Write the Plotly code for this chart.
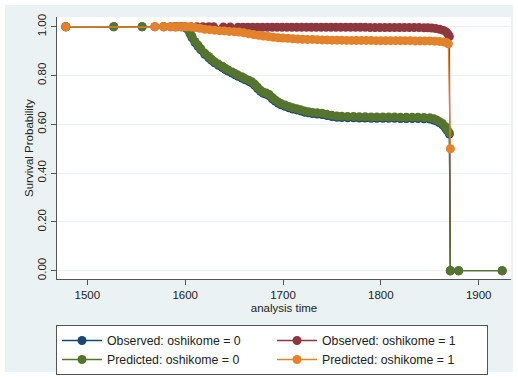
import plotly.graph_objects as go

# ---------------- data ----------------
obs0_t = [1478, 1527, 1556, 1578, 1590, 1596, 1600, 1603, 1605, 1607, 1610, 1613, 1616, 1620,
          1624, 1627, 1630, 1634, 1638, 1641, 1644, 1648, 1651, 1654, 1658, 1661, 1665, 1668,
          1671, 1674, 1677, 1680, 1683, 1686, 1689, 1692, 1695, 1698, 1702, 1706, 1710, 1714,
          1718, 1722, 1726, 1730, 1735, 1740, 1745, 1750, 1755, 1760, 1766, 1772, 1778, 1784,
          1790, 1796, 1802, 1808, 1814, 1820, 1826, 1832, 1838, 1844, 1850, 1854, 1857, 1860,
          1863, 1866, 1868, 1870, 1871, 1879.5, 1924]
obs0_s = [1.0, 1.0, 1.0, 1.0, 1.0, 1.0, 0.997, 0.987, 0.971, 0.955, 0.935, 0.92, 0.905, 0.887,
          0.873, 0.862, 0.852, 0.842, 0.833, 0.825, 0.818, 0.81, 0.803, 0.797, 0.79, 0.783, 0.776, 0.77,
          0.76, 0.747, 0.735, 0.727, 0.723, 0.717, 0.705, 0.695, 0.687, 0.68, 0.674, 0.668, 0.663, 0.659,
          0.655, 0.65, 0.647, 0.644, 0.642, 0.64, 0.636, 0.632, 0.629, 0.628, 0.627, 0.627, 0.626, 0.626,
          0.625, 0.625, 0.625, 0.625, 0.625, 0.624, 0.624, 0.624, 0.624, 0.623, 0.622, 0.618, 0.613, 0.606,
          0.598, 0.585, 0.573, 0.56, 0.0, 0.0, 0.0]

obs1_t = [1478, 1569, 1585, 1592, 1600, 1606, 1612, 1618, 1624, 1629, 1639, 1646, 1654, 1659,
          1664, 1669, 1674, 1679, 1684, 1689, 1694, 1699, 1704, 1709, 1714, 1719, 1724, 1729,
          1734, 1739, 1744, 1749, 1754, 1759, 1764, 1769, 1774, 1779, 1784, 1789, 1794, 1799,
          1804, 1809, 1814, 1819, 1824, 1829, 1834, 1839, 1844, 1848, 1852, 1856, 1860, 1864,
          1867, 1869, 1870, 1871]
obs1_s = [1.0, 1.0, 1.0, 1.0, 1.0, 1.0, 1.0, 1.0, 1.0, 1.0, 0.999, 0.999, 0.998, 0.998,
          0.998, 0.998, 0.998, 0.998, 0.998, 0.998, 0.998, 0.998, 0.998, 0.998, 0.998, 0.998, 0.998, 0.998,
          0.998, 0.998, 0.998, 0.998, 0.998, 0.998, 0.998, 0.998, 0.998, 0.998, 0.998, 0.997, 0.997, 0.997,
          0.997, 0.997, 0.997, 0.997, 0.997, 0.997, 0.997, 0.997, 0.996, 0.996, 0.995, 0.993, 0.99, 0.985,
          0.978, 0.968, 0.96, 0.0]

pred0_t = [1478, 1527, 1556, 1578, 1590, 1596, 1600, 1603, 1605, 1607, 1610, 1613, 1616, 1620,
           1624, 1627, 1630, 1634, 1638, 1641, 1644, 1648, 1651, 1654, 1658, 1661, 1665, 1668,
           1671, 1674, 1677, 1680, 1683, 1686, 1689, 1692, 1695, 1698, 1702, 1706, 1710, 1714,
           1718, 1722, 1726, 1730, 1735, 1740, 1745, 1750, 1755, 1760, 1766, 1772, 1778, 1784,
           1790, 1796, 1802, 1808, 1814, 1820, 1826, 1832, 1838, 1844, 1850, 1854, 1857, 1860,
           1863, 1866, 1868, 1870, 1871, 1879.5, 1924]
pred0_s = [1.0, 1.0, 1.0, 1.0, 1.0, 1.0, 0.998, 0.99, 0.975, 0.96, 0.94, 0.925, 0.91, 0.892,
           0.878, 0.867, 0.857, 0.847, 0.838, 0.83, 0.823, 0.815, 0.808, 0.802, 0.795, 0.788, 0.781, 0.775,
           0.765, 0.752, 0.74, 0.732, 0.728, 0.722, 0.71, 0.7, 0.692, 0.685, 0.679, 0.673, 0.668, 0.664,
           0.66, 0.655, 0.652, 0.649, 0.647, 0.645, 0.641, 0.637, 0.634, 0.633, 0.632, 0.632, 0.631, 0.631,
           0.63, 0.63, 0.63, 0.63, 0.63, 0.629, 0.629, 0.629, 0.629, 0.628, 0.627, 0.623, 0.618, 0.611,
           0.603, 0.59, 0.578, 0.565, 0.0, 0.0, 0.0]

pred1_t = [1478, 1569, 1578, 1585, 1590, 1594, 1598, 1602, 1606, 1610, 1615, 1620, 1625, 1630,
           1635, 1640, 1645, 1650, 1655, 1660, 1665, 1670, 1675, 1680, 1685, 1690, 1695, 1700,
           1705, 1710, 1715, 1720, 1725, 1730, 1735, 1740, 1745, 1750, 1755, 1760, 1765, 1770,
           1775, 1780, 1785, 1790, 1795, 1800, 1805, 1810, 1815, 1820, 1825, 1830, 1835, 1840,
           1845, 1850, 1855, 1860, 1864, 1867, 1869, 1871]
pred1_s = [1.0, 1.0, 1.0, 1.0, 1.0, 1.0, 1.0, 1.0, 0.999, 0.997, 0.994, 0.99, 0.988, 0.986,
           0.984, 0.983, 0.981, 0.98, 0.978, 0.975, 0.971, 0.968, 0.965, 0.962, 0.96, 0.957, 0.955, 0.954,
           0.953, 0.951, 0.95, 0.949, 0.948, 0.948, 0.947, 0.946, 0.946, 0.945, 0.945, 0.945, 0.944, 0.944,
           0.944, 0.944, 0.944, 0.944, 0.943, 0.943, 0.943, 0.943, 0.943, 0.943, 0.943, 0.943, 0.942, 0.942,
           0.942, 0.942, 0.941, 0.94, 0.938, 0.935, 0.93, 0.5]

names = ["Observed: oshikome = 0", "Observed: oshikome = 1",
         "Predicted: oshikome = 0", "Predicted: oshikome = 1"]
colors = ["#1a476f", "#8e373e", "#55752f", "#e3822a"]

xticks = [1500, 1600, 1700, 1800, 1900]
yticks = [0.0, 0.2, 0.4, 0.6, 0.8, 1.0]

# ---------------- figure ----------------
fig = go.Figure()
series = [(obs0_t, obs0_s), (obs1_t, obs1_s), (pred0_t, pred0_s), (pred1_t, pred1_s)]
for (t, s), name, col in zip(series, names, colors):
    fig.add_trace(go.Scatter(
        x=t, y=s, name=name, mode="lines+markers",
        line=dict(color=col, width=1.3),
        marker=dict(color=col, size=9, line=dict(width=0)),
    ))

L, R, T, B = 57, 511, 17, 279
W, H = 518, 377
pw, ph = R - L, B - T

# thin white frame around the bluish-gray graph region
fig.add_shape(type="rect", xref="paper", yref="paper", layer="above",
              x0=(0 - L) / pw, x1=(W - L) / pw, y0=(B - H) / ph, y1=B / ph,
              fillcolor="rgba(0,0,0,0)", line=dict(color="white", width=10))

axis_font = dict(family="Liberation Sans, Arial, sans-serif", size=11.5, color="#222222")

fig.add_annotation(text="Survival Probability", xref="paper", yref="paper",
                   x=(29 - L) / pw, y=0.5, textangle=-90, showarrow=False,
                   xanchor="center", yanchor="middle", font=axis_font)

fig.update_layout(
    width=W, height=H,
    margin=dict(l=L, r=W - R, t=T, b=H - B, autoexpand=False),
    paper_bgcolor="#eaf2f3",
    plot_bgcolor="white",
    font=axis_font,
    showlegend=True,
    legend=dict(
        orientation="h",
        x=(272 - L) / pw, xanchor="center",
        y=(B - 325) / ph, yanchor="top",
        bgcolor="white", bordercolor="#555555", borderwidth=1,
        entrywidth=160, entrywidthmode="pixels",
        font=dict(family="Liberation Sans, Arial, sans-serif", size=12.3, color="#222222"),
        traceorder="normal", itemwidth=40, tracegroupgap=0,
    ),
    xaxis=dict(
        range=[1469, 1933], tickvals=xticks, ticktext=[str(v) for v in xticks],
        showgrid=False, zeroline=False,
        showline=True, linecolor="#555555", linewidth=1,
        ticks="outside", ticklen=5, tickcolor="#555555",
        title=dict(text="analysis time", standoff=4, font=axis_font),
    ),
    yaxis=dict(
        range=[-0.034, 1.040], tickvals=yticks, ticktext=[f"{v:.2f}" for v in yticks],
        tickangle=-90,
        showgrid=True, gridcolor="#eaf2f3", gridwidth=1, zeroline=False,
        showline=True, linecolor="#555555", linewidth=1,
        ticks="outside", ticklen=5, tickcolor="#555555",
    ),
)

fig.write_html("out.html", config={"displayModeBar": False},
               post_script="document.body.style.margin='0';")
